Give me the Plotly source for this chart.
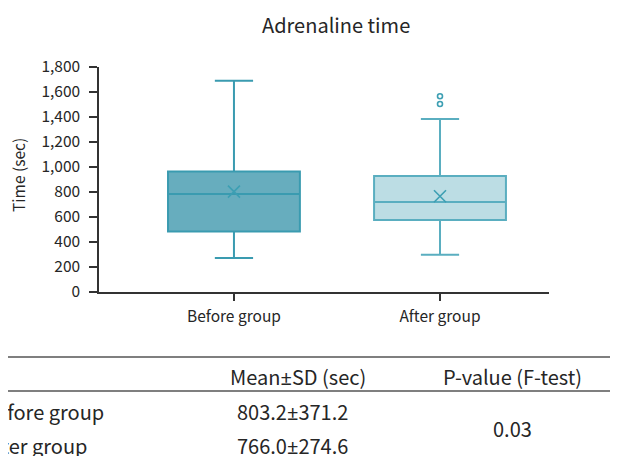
import plotly.graph_objects as go

# ---------------- data ----------------
categories = ["Before group", "After group"]
q1 = [485, 576]
median = [785, 720]
q3 = [965, 928]
lower_whisker = [272, 299]
upper_whisker = [1690, 1384]
means = [803.2, 766.0]
outlier_group = ["After group", "After group"]
outlier_values = [1504, 1566]
y_tickvals = [0, 200, 400, 600, 800, 1000, 1200, 1400, 1600, 1800]

table_header = ["Mean±SD (sec)", "P-value (F-test)"]
table_groups = ["Before group", "After group"]
table_mean_sd = ["803.2±371.2", "766.0±274.6"]
p_value = "0.03"

# ---------------- style ----------------
FONT = "Noto Sans CJK KR"
PM_FONT = "Noto Sans"
TXT = "#262626"
fills = ["#67adbe", "#bcdde4"]
lines = ["#3a9bb0", "#5aaec0"]
teal = "#3d9fb3"

OFF = 8                      # page body margin
PAGE_W, PAGE_H = 618, 456
W, H = PAGE_W, PAGE_H - OFF
# plot area in page pixels
PL, PR, PT, PB = 99, 549, 67, 292
L, R, T, B = PL - OFF, PR - OFF, PT - OFF, PB - OFF


def px(x):            # page pixel -> paper x
    return (x - PL) / (PR - PL)


def py(y):            # page pixel -> paper y
    return (PB - y) / (PB - PT)


def fix_pm(s):
    return s.replace("±", "<span style='font-family:%s'>±</span>" % PM_FONT)


fig = go.Figure()
for i, c in enumerate(categories):
    fig.add_trace(go.Box(
        x=[c], q1=[q1[i]], median=[median[i]], q3=[q3[i]],
        lowerfence=[lower_whisker[i]], upperfence=[upper_whisker[i]],
        fillcolor=fills[i], line=dict(color=lines[i], width=2),
        width=0.64, whiskerwidth=0.29, boxpoints=False,
        showlegend=False, hoverinfo="skip",
    ))

fig.add_trace(go.Scatter(
    x=categories, y=means, mode="markers",
    marker=dict(symbol="x-thin-open", size=12, color=teal,
                line=dict(color=teal, width=1.6)),
    showlegend=False, hoverinfo="skip",
))
fig.add_trace(go.Scatter(
    x=outlier_group, y=outlier_values, mode="markers",
    marker=dict(symbol="circle-open", size=5, color=teal,
                line=dict(color=teal, width=1.6)),
    showlegend=False, hoverinfo="skip",
))

annotations = [
    dict(text="Adrenaline time", x=px(336), y=py(25),
         xref="paper", yref="paper", showarrow=False,
         font=dict(size=20, color=TXT, family=FONT),
         xanchor="center", yanchor="middle"),
    dict(text="Time (sec)", x=px(18), y=py(175), xref="paper", yref="paper",
         showarrow=False, textangle=-90,
         font=dict(size=15.5, color=TXT, family=FONT),
         xanchor="center", yanchor="middle"),
]

TFS = 20
header_x = [298, 512]
for hx, htxt in zip(header_x, table_header):
    annotations.append(dict(text=fix_pm(htxt), x=px(hx), y=py(376),
                            xref="paper", yref="paper", showarrow=False,
                            font=dict(size=TFS, color=TXT, family=FONT),
                            xanchor="center", yanchor="middle"))
row_y = [411, 445]
for ry, g, ms in zip(row_y, table_groups, table_mean_sd):
    annotations.append(dict(text=g, x=px(-19), y=py(ry), xref="paper",
                            yref="paper", showarrow=False,
                            font=dict(size=TFS, color=TXT, family=FONT),
                            xanchor="left", yanchor="middle"))
    annotations.append(dict(text=fix_pm(ms), x=px(292), y=py(ry),
                            xref="paper", yref="paper", showarrow=False,
                            font=dict(size=TFS, color=TXT, family=FONT),
                            xanchor="center", yanchor="middle"))
annotations.append(dict(text=p_value, x=px(512), y=py(428), xref="paper",
                        yref="paper", showarrow=False,
                        font=dict(size=TFS, color=TXT, family=FONT),
                        xanchor="center", yanchor="middle"))

shapes = [
    dict(type="line", xref="paper", yref="paper", x0=px(0), x1=px(PAGE_W + 4),
         y0=py(357), y1=py(357), line=dict(color="#555555", width=1.5)),
    dict(type="line", xref="paper", yref="paper", x0=px(0), x1=px(PAGE_W + 4),
         y0=py(391), y1=py(391), line=dict(color="#555555", width=1.5)),
]

fig.update_layout(
    width=W, height=H,
    margin=dict(l=L, r=W - R, t=T, b=H - B, pad=0),
    paper_bgcolor="white", plot_bgcolor="white",
    font=dict(family=FONT, color=TXT, size=15.5),
    boxmode="overlay",
    annotations=annotations, shapes=shapes,
    xaxis=dict(type="category", range=[-0.655, 1.529],
               showline=True, linecolor="#333333", linewidth=1.5,
               ticks="outside", ticklen=7, tickcolor="#333333", tickwidth=1.5,
               ticklabelstandoff=3,
               showgrid=False, zeroline=False,
               tickfont=dict(size=15.5, color=TXT, family=FONT)),
    yaxis=dict(range=[0, 1800], tickvals=y_tickvals, tickformat=",d",
               showline=True, linecolor="#333333", linewidth=1.5,
               ticks="outside", ticklen=8, tickcolor="#333333", tickwidth=1.5,
               ticklabelstandoff=6,
               showgrid=False, zeroline=False,
               tickfont=dict(size=15.5, color=TXT, family=FONT)),
)

fig.write_html("out.html")
